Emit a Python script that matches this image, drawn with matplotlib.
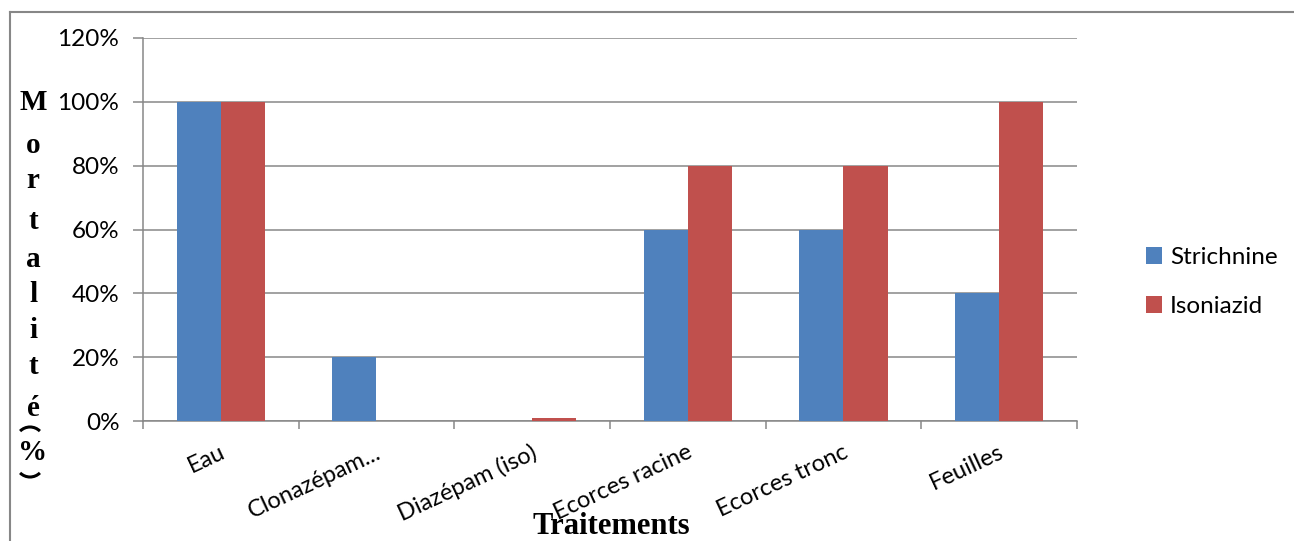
#!/usr/bin/env python3
"""
Mortalité (%) par traitement : Strichnine vs Isoniazid.
"""
import numpy as np
import matplotlib.pyplot as plt
from matplotlib.patches import Patch, Arc

categories = ["Eau", "Clonazépam...", "Diazépam (iso)", "Ecorces racine", "Ecorces tronc", "Feuilles"]
strichnine = [1.00, 0.20, 0.00, 0.60, 0.60, 0.40]
isoniazid = [1.00, 0.00, 0.01, 0.80, 0.80, 1.00]
series_names = ["Strichnine", "Isoniazid"]
yticks = [0.0, 0.2, 0.4, 0.6, 0.8, 1.0, 1.2]

BLUE = "#4F81BD"
RED = "#C0504D"
GREY = "#878787"
SANS = "Lato"
SERIF = "Liberation Serif"

fig = plt.figure(figsize=(12.94, 5.41), dpi=100)
W, H = 1294, 541

def fx(px):
    return px / W

def fy(py):
    return 1 - py / H

# pixel-space overlay (y grows downward) for the frame and the bracket arcs
overlay = fig.add_axes([0, 0, 1, 1], zorder=-1)
overlay.set_xlim(0, W)
overlay.set_ylim(H, 0)
overlay.axis("off")
overlay.plot([10, 10], [12, H], color=GREY, lw=1.5)
overlay.plot([10, W], [12, 12], color=GREY, lw=1.5)
overlay.add_patch(Arc((30, 441), 28, 28, theta1=225, theta2=315, color="black", lw=2.2))
overlay.add_patch(Arc((30, 463), 28, 28, theta1=45, theta2=135, color="black", lw=2.2))

ax = fig.add_axes([fx(143), fy(421), fx(1077) - fx(143), fy(38) - fy(421)])

x = np.arange(len(categories))
bw = 0.283
ax.bar(x - bw / 2, strichnine, width=bw, color=BLUE, zorder=3)
ax.bar(x + bw / 2, isoniazid, width=bw, color=RED, zorder=3)

ax.set_xlim(-0.5, len(categories) - 0.5)
ax.set_ylim(0, 1.2)
ax.set_yticks(yticks)
ax.set_yticklabels([f"{v * 100:.0f}%" for v in yticks], fontsize=17.5, family=SANS)
ax.yaxis.grid(True, color=GREY, lw=1.1, zorder=0)
ax.tick_params(axis="y", direction="out", length=7, width=1.1, color=GREY, pad=10)

# category ticks sit on the boundaries, labels go at the centres
ax.set_xticks(np.arange(-0.5, len(categories)))
ax.set_xticklabels([])
ax.tick_params(axis="x", direction="out", length=6, width=1.1, color=GREY)
for xi, lab in zip(x, categories):
    ax.text(xi - 0.01, -0.065, lab, rotation=25, rotation_mode="anchor",
            ha="right", va="top", fontsize=17, family=SANS)

for side in ["top", "right"]:
    ax.spines[side].set_visible(False)
for side in ["left", "bottom"]:
    ax.spines[side].set_color(GREY)
    ax.spines[side].set_linewidth(1.1)

# vertical stacked axis title
letters = ["M", "o", "r", "t", "a", "l", "i", "t", "é", "%"]
ys = [103, 145, 181, 221, 259, 295, 330, 366, 408, 453]
for ch, py in zip(letters, ys):
    fig.text(fx(33), fy(py), ch, ha="center", va="center", fontsize=21,
             fontweight="bold", family=SERIF)

fig.text(fx(611), fy(527), "Traitements", ha="center", va="center",
         fontsize=22, fontweight="bold", family=SERIF)

handles = [Patch(facecolor=BLUE), Patch(facecolor=RED)]
fig.legend(handles, series_names, loc="center left",
           bbox_to_anchor=(fx(1124), fy(282)), frameon=False,
           prop={"family": SANS, "size": 17.5}, handlelength=0.65,
           handleheight=0.65, handletextpad=0.35, labelspacing=1.15)

fig.savefig("out.png", dpi=100)
